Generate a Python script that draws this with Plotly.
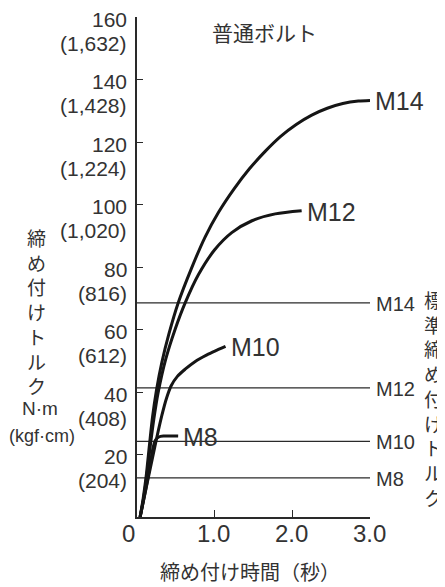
import plotly.graph_objects as go

# Tightening torque vs. time (normal bolts)
bolts = ['M8', 'M10', 'M12', 'M14']

t_m8 = [0.04, 0.09, 0.14, 0.18, 0.21, 0.24, 0.28, 0.34, 0.53]
v_m8 = [0, 6, 12.5, 18.5, 22.5, 24.7, 25.6, 25.9, 25.9]

t_m10 = [0.04, 0.09, 0.145, 0.20, 0.26, 0.32, 0.38, 0.44, 0.52, 0.62, 0.75, 0.90, 1.03, 1.14]
v_m10 = [0, 6, 12.5, 19, 26, 32.5, 38, 42, 45, 47.3, 49.8, 51.9, 53.4, 54.6]

t_m12 = [0.04, 0.085, 0.125, 0.17, 0.215, 0.27, 0.37, 0.49, 0.62, 0.79, 1.0, 1.22, 1.48, 1.78, 2.12]
v_m12 = [0, 6, 13, 22.5, 31, 39.5, 50.5, 60, 68.5, 77.5, 85.5, 91, 94.8, 97, 98]

t_m14 = [0.04, 0.08, 0.12, 0.16, 0.20, 0.25, 0.32, 0.41, 0.53, 0.70, 0.875, 1.05, 1.25,
         1.45, 1.65, 1.85, 2.05, 2.25, 2.45, 2.65, 2.85, 3.0]
v_m14 = [0, 6, 13.5, 23, 32, 40.5, 49.5, 58.5, 68.5, 79.5, 89.5, 97.5, 105,
         111.5, 117, 121.8, 125.6, 128.6, 130.8, 132.3, 133.1, 133.3]

# standard tightening torque (N·m)
std_torque = [12.5, 24.2, 41.3, 68.5]

y_ticks = [20, 40, 60, 80, 100, 120, 140, 160]
y_kgf = ['(204)', '(408)', '(612)', '(816)', '(1,020)', '(1,224)', '(1,428)', '(1,632)']
x_ticks = [0, 1, 2, 3]
x_ticklabels = ['0', '1.0', '2.0', '3.0']

# Layout geometry (page body has an 8px margin)
OFF = 8
FW, FH = 437, 579
L, R, T, B = 129, 75, 9, 70
PW, PH = FW - L - R, FH - T - B


def px(x):
    return (x - OFF - L) / PW


def py(y):
    return (FH - B - (y - OFF)) / PH


LAT = 'Liberation Sans, Arial, sans-serif'
JP = 'Noto Sans CJK JP, sans-serif'
TXT = '#333333'

fig = go.Figure()

curves = [(t_m8, v_m8), (t_m10, v_m10), (t_m12, v_m12), (t_m14, v_m14)]

# standard torque lines
for name, v in zip(bolts, std_torque):
    fig.add_trace(go.Scatter(
        x=[0, 3], y=[v, v], mode='lines',
        line=dict(color='#2a2a2a', width=1.3),
        hoverinfo='skip', showlegend=False
    ))

for name, (tt, vv) in zip(bolts, curves):
    fig.add_trace(go.Scatter(
        x=tt, y=vv, mode='lines', name=name,
        line=dict(color='#151515', width=3, shape='spline', smoothing=0.8),
        showlegend=False
    ))

ann = []

# curve end labels
for name, (tt, vv) in zip(bolts, curves):
    ann.append(dict(x=tt[-1], y=vv[-1], xref='x', yref='y', text=name,
                    xanchor='left', yanchor='middle', xshift=3, yshift=-1,
                    showarrow=False, font=dict(family=LAT, size=25, color=TXT)))

# line labels on the right
for name, v in zip(bolts, std_torque):
    ann.append(dict(x=3, y=v, xref='x', yref='y', text=name,
                    xanchor='left', yanchor='middle', xshift=4, yshift=-1,
                    showarrow=False, font=dict(family=LAT, size=20, color=TXT)))

# y tick labels (N·m and kgf·cm)
for v, k in zip(y_ticks, y_kgf):
    ann.append(dict(x=0, y=v, xref='x', yref='y', text=str(v),
                    xanchor='right', yanchor='middle', xshift=-8, yshift=-2,
                    showarrow=False, font=dict(family=LAT, size=21, color=TXT)))
    ann.append(dict(x=0, y=v, xref='x', yref='y', text=k,
                    xanchor='right', yanchor='middle', xshift=-8, yshift=-26,
                    showarrow=False, font=dict(family=LAT, size=21, color=TXT)))

# x tick labels
for xv, lab in zip(x_ticks, x_ticklabels):
    ann.append(dict(x=xv, y=0, xref='x', yref='y', text=lab,
                    xanchor='center', yanchor='middle', yshift=-16,
                    xshift=-9 if xv == 0 else -1,
                    showarrow=False, font=dict(family=LAT, size=24, color=TXT)))

# left vertical title
ann.append(dict(x=px(36.5), y=py(311), xref='paper', yref='paper',
                text='<br>'.join('締め付けトルク'), xanchor='center', yanchor='middle',
                showarrow=False, font=dict(family=JP, size=19, color=TXT)))
ann.append(dict(x=px(40), y=py(408), xref='paper', yref='paper', text='N·m',
                xanchor='center', yanchor='middle', showarrow=False,
                font=dict(family=LAT, size=19, color=TXT)))
ann.append(dict(x=px(41.5), y=py(436), xref='paper', yref='paper', text='(kgf·cm)',
                xanchor='center', yanchor='middle', showarrow=False,
                font=dict(family=LAT, size=18, color=TXT)))

# right vertical title
ann.append(dict(x=px(433), y=py(398), xref='paper', yref='paper',
                text='<br>'.join('標準締め付けトルク'), xanchor='center', yanchor='middle',
                showarrow=False, font=dict(family=JP, size=19, color=TXT)))

# header and x title
ann.append(dict(x=px(264), y=py(31.7), xref='paper', yref='paper', text='普通ボルト',
                xanchor='center', yanchor='middle', showarrow=False,
                font=dict(family=JP, size=21, color=TXT)))
ann.append(dict(x=px(249.5), y=py(571), xref='paper', yref='paper', text='締め付け時間（秒）',
                xanchor='center', yanchor='middle', showarrow=False,
                font=dict(family=JP, size=20, color=TXT)))

fig.update_layout(
    width=FW, height=FH,
    margin=dict(l=L, r=R, t=T, b=B, pad=0),
    paper_bgcolor='white', plot_bgcolor='white',
    showlegend=False,
    annotations=ann,
    xaxis=dict(range=[0, 3], showgrid=False, zeroline=False, showline=True,
               linecolor='#2a2a2a', linewidth=1.5, ticks='inside', ticklen=7,
               tickcolor='#2a2a2a', tickwidth=1.3, tickvals=[1, 2, 3],
               showticklabels=False, fixedrange=True),
    yaxis=dict(range=[0, 160], showgrid=False, zeroline=False, showline=True,
               linecolor='#2a2a2a', linewidth=1.5, ticks='inside', ticklen=6,
               tickcolor='#2a2a2a', tickwidth=1.3, tickvals=y_ticks,
               showticklabels=False, fixedrange=True),
)

fig.write_html('out.html')
